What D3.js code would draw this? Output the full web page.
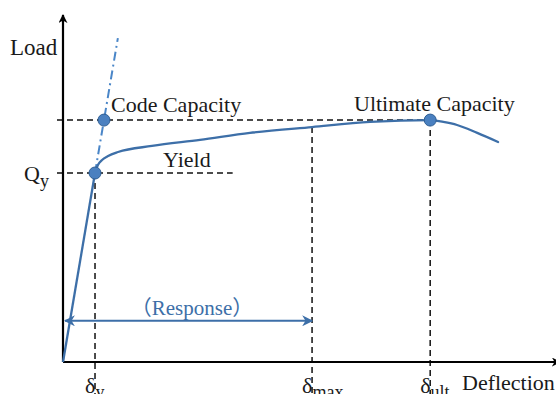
<!DOCTYPE html>
<html>
<head>
<meta charset="utf-8">
<script src="https://cdn.jsdelivr.net/npm/d3@7"></script>
<style>
  html, body { margin: 0; padding: 0; background: #fff; }
  svg { display: block; }
  text { font-family: "Liberation Serif", "DejaVu Serif", serif; fill: #1a1a1a; }
</style>
</head>
<body>
<svg id="chart" width="556" height="394"></svg>
<script>
// Load–deflection curve, normalised: deflection / δy, load / Qy
const deflection = [0, 1, 1.09, 1.22, 1.41, 1.72, 2.78, 4.28, 5.84, 7.78, 9.59, 11.47, 11.88, 12.31, 12.94, 13.59];
const load       = [0, 1, 1.042, 1.069, 1.09, 1.111, 1.143, 1.175, 1.212, 1.243, 1.270, 1.280, 1.270, 1.254, 1.212, 1.164];

// Key points
const yieldPoint    = { d: 1, q: 1 };
const ultimatePoint = { d: 11.47, q: 1.28 };
const codeCapacity  = 1.28;           // load at code capacity (on elastic line)
const elasticTop    = 1.714;          // upper end of the elastic extension
const deltaMax      = 7.78;           // response deflection
const responseLevel = 0.218;          // height of the response arrow

// Axis extents
const xMax = 15.4, yMax = 1.836;

const svg = d3.select("#chart");
const x = d3.scaleLinear().domain([0, xMax]).range([63, 556]);
const y = d3.scaleLinear().domain([0, yMax]).range([362, 15]);

const blue = "#3d6fa8";
const lightBlue = "#4a86c8";

// Arrow markers
const defs = svg.append("defs");
defs.append("marker").attr("id", "axisArrow")
  .attr("viewBox", "0 0 10 10").attr("refX", 9).attr("refY", 5)
  .attr("markerWidth", 9).attr("markerHeight", 9).attr("markerUnits", "userSpaceOnUse")
  .attr("orient", "auto")
  .append("path").attr("d", "M0,0 L10,5 L0,10 L3,5 Z").attr("fill", "#000");
defs.append("marker").attr("id", "respArrow")
  .attr("viewBox", "0 0 10 10").attr("refX", 9).attr("refY", 5)
  .attr("markerWidth", 11).attr("markerHeight", 11).attr("markerUnits", "userSpaceOnUse")
  .attr("orient", "auto-start-reverse")
  .append("path").attr("d", "M0,0 L10,5 L0,10 L3,5 Z").attr("fill", blue);

// Dashed reference lines
const dash = "6,4";
const refLine = (x1, y1, x2, y2) => svg.append("line")
  .attr("x1", x1).attr("y1", y1).attr("x2", x2).attr("y2", y2)
  .attr("stroke", "#111").attr("stroke-width", 1.5).attr("stroke-dasharray", dash);

refLine(57, y(ultimatePoint.q), x(ultimatePoint.d), y(ultimatePoint.q));
refLine(57, y(yieldPoint.q), x(5.3), y(yieldPoint.q));
refLine(x(yieldPoint.d), y(yieldPoint.q), x(yieldPoint.d), 394);
refLine(x(deltaMax), y(load[deflection.indexOf(deltaMax)]), x(deltaMax), 394);
refLine(x(ultimatePoint.d), y(ultimatePoint.q), x(ultimatePoint.d), 394);

// Axes
svg.append("line").attr("x1", x(0)).attr("y1", y(0)).attr("x2", x(0)).attr("y2", y(yMax))
  .attr("stroke", "#000").attr("stroke-width", 2.2).attr("marker-end", "url(#axisArrow)");
svg.append("line").attr("x1", x(0)).attr("y1", y(0)).attr("x2", x(xMax) + 4).attr("y2", y(0))
  .attr("stroke", "#000").attr("stroke-width", 2.2).attr("marker-end", "url(#axisArrow)");

// Elastic extension (dash-dot)
svg.append("line")
  .attr("x1", x(yieldPoint.d)).attr("y1", y(yieldPoint.q))
  .attr("x2", x(elasticTop)).attr("y2", y(elasticTop))
  .attr("stroke", lightBlue).attr("stroke-width", 2)
  .attr("stroke-dasharray", "9,4,2,4");

// Response arrow
svg.append("line")
  .attr("x1", x(0) + 2).attr("y1", y(responseLevel)).attr("x2", x(deltaMax)).attr("y2", y(responseLevel))
  .attr("stroke", blue).attr("stroke-width", 2)
  .attr("marker-start", "url(#respArrow)").attr("marker-end", "url(#respArrow)");

// Curve: straight elastic branch, smooth post-yield branch
const pts = deflection.map((d, i) => [d, load[i]]);
const lineGen = d3.line().x(d => x(d[0])).y(d => y(d[1]));
svg.append("path").datum(pts.slice(0, 2))
  .attr("fill", "none").attr("stroke", blue).attr("stroke-width", 2.3)
  .attr("d", lineGen.curve(d3.curveLinear));
svg.append("path").datum(pts.slice(1))
  .attr("fill", "none").attr("stroke", blue).attr("stroke-width", 2.3)
  .attr("stroke-linecap", "round")
  .attr("d", lineGen.curve(d3.curveMonotoneX));

// Points
const marks = [
  { d: yieldPoint.d, q: yieldPoint.q },
  { d: codeCapacity, q: codeCapacity },
  { d: ultimatePoint.d, q: ultimatePoint.q }
];
svg.selectAll("circle.pt").data(marks).join("circle")
  .attr("class", "pt")
  .attr("cx", d => x(d.d)).attr("cy", d => y(d.q)).attr("r", 6)
  .attr("fill", "#4a80c0").attr("stroke", "#2f5f95").attr("stroke-width", 1);

// Labels
const fs = 22;
svg.append("text").attr("x", 10).attr("y", 55).attr("font-size", 23).text("Load");
svg.append("text").attr("x", 111).attr("y", 112).attr("font-size", fs).text("Code Capacity");
svg.append("text").attr("x", 354).attr("y", 111).attr("font-size", fs).text("Ultimate Capacity");
svg.append("text").attr("x", 163).attr("y", 167).attr("font-size", fs).text("Yield");
svg.append("text").attr("x", 462).attr("y", 390).attr("font-size", fs).text("Deflection");

const qy = svg.append("text").attr("x", 24).attr("y", 181).attr("font-size", fs);
qy.append("tspan").text("Q");
qy.append("tspan").attr("font-size", 18).attr("dy", 6).text("y");

const resp = svg.append("text").attr("x", 192).attr("y", 315).attr("font-size", 21)
  .attr("text-anchor", "middle").style("fill", blue);
resp.append("tspan").style("font-family", "'Noto Sans CJK JP'").style("fill", blue).text("（");
resp.append("tspan").style("fill", blue).text("Response");
resp.append("tspan").style("font-family", "'Noto Sans CJK JP'").style("fill", blue).text("）");

const deltaLabel = (d, sub) => {
  const t = svg.append("text").attr("x", x(d) - 10).attr("y", 393).attr("font-size", fs);
  t.append("tspan").text("δ");
  t.append("tspan").attr("font-size", 18).attr("dy", 5).text(sub);
};
deltaLabel(yieldPoint.d, "y");
deltaLabel(deltaMax, "max");
deltaLabel(ultimatePoint.d, "ult");
</script>
</body>
</html>
